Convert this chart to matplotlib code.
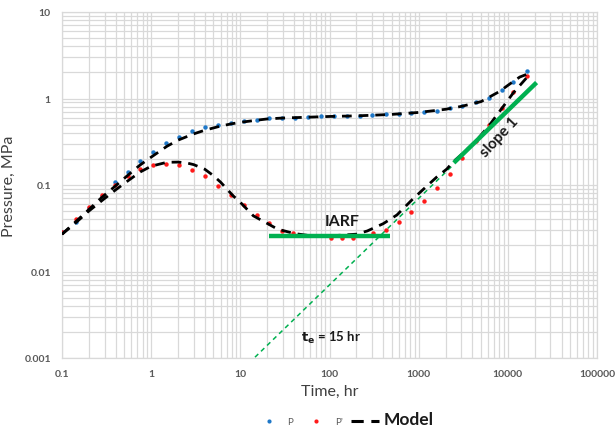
import matplotlib
matplotlib.use("Agg")
import matplotlib.pyplot as plt
from matplotlib.lines import Line2D
from matplotlib.ticker import LogLocator, NullFormatter, FixedLocator
import numpy as np

plt.rcParams['font.family'] = ['Lato', 'DejaVu Sans']

# ---- data ----
t_p = [0.1, 0.143, 0.2, 0.28, 0.39, 0.55, 0.75, 1.05, 1.47, 2.05, 2.86, 4.0, 5.6, 7.8,
       10.9, 15.3, 21, 29.5, 41, 57, 80, 112, 157, 219, 296, 425, 600, 820, 1150,
       1600, 2250, 3100, 4400, 6100, 8500, 11500, 16500]
p_vals = [0.029, 0.037, 0.054, 0.075, 0.108, 0.141, 0.189, 0.241, 0.306, 0.359, 0.421,
          0.469, 0.494, 0.521, 0.549, 0.564, 0.595, 0.595, 0.595, 0.611, 0.628, 0.628,
          0.628, 0.628, 0.644, 0.662, 0.662, 0.68, 0.698, 0.717, 0.776, 0.818, 0.911,
          1.01, 1.25, 1.55, 2.08]

t_dp = [0.1, 0.143, 0.2, 0.28, 0.39, 0.55, 0.75, 1.05, 1.47, 2.05, 2.86, 4.0, 5.6, 7.8,
        10.9, 15.3, 21, 29.5, 39, 104, 138, 183, 307, 428, 600, 820, 1150, 1600, 2250,
        3100, 4400, 6100, 8500, 11500, 16500]
dp_vals = [0.029, 0.0405, 0.0557, 0.0766, 0.100, 0.127, 0.153, 0.170, 0.175, 0.170,
           0.149, 0.127, 0.097, 0.0766, 0.0587, 0.045, 0.0364, 0.0294, 0.0279, 0.0244,
           0.0244, 0.0244, 0.0279, 0.0302, 0.0373, 0.0488, 0.0653, 0.0923, 0.134, 0.205,
           0.323, 0.494, 0.776, 1.19, 1.82]

t_model = [0.1, 0.14, 0.2, 0.28, 0.4, 0.55, 0.75, 1.0, 1.5, 2, 3, 4, 6, 8, 10, 15, 20,
           30, 50, 100, 200, 300, 500, 1000, 2000, 3000, 5000, 8000, 10500, 13600, 17700]
p_model = [0.027, 0.037, 0.052, 0.072, 0.098, 0.13, 0.17, 0.21, 0.28, 0.33, 0.39, 0.43,
           0.48, 0.51, 0.53, 0.56, 0.58, 0.595, 0.605, 0.62, 0.63, 0.64, 0.655, 0.69,
           0.75, 0.81, 0.92, 1.2, 1.47, 1.77, 1.97]

t_dmodel = [0.1, 0.14, 0.2, 0.28, 0.4, 0.55, 0.75, 1.0, 1.5, 2, 2.5, 3, 4, 5, 6, 8.3, 10,
            14, 20, 26, 40, 60, 100, 200, 265, 400, 570, 860, 1240, 1600, 2070, 2420,
            3100, 4400, 6100, 8500, 11500, 17700]
dp_model = [0.027, 0.036, 0.05, 0.066, 0.088, 0.112, 0.141, 0.165, 0.183, 0.184, 0.18,
            0.172, 0.152, 0.128, 0.108, 0.075, 0.063, 0.044, 0.036, 0.031, 0.0275, 0.026,
            0.0258, 0.027, 0.0294, 0.0357, 0.045, 0.0689, 0.0975, 0.124, 0.153, 0.184,
            0.23, 0.323, 0.48, 0.76, 1.16, 1.92]

iarf_t = [21, 475]
iarf_level = 0.0257
slope_t = [2480, 21000]
te_line_t = [14.6, 2480]
slope_coef = 7.0e-5   # P' = coef * t  (unit slope)

x_ticks = [0.1, 1, 10, 100, 1000, 10000, 100000]
x_labels = ['0.1', '1', '10', '100', '1000', '10000', '100000']
y_ticks = [0.001, 0.01, 0.1, 1, 10]
y_labels = ['0.001', '0.01', '0.1', '1', '10']

# ---- figure ----
fig = plt.figure(figsize=(6.16, 4.27), dpi=100)
ax = fig.add_axes([62/616, 1-359/427, 535/616, 346/427])
ax.set_xscale('log')
ax.set_yscale('log')
ax.set_xlim(0.1, 100000)
ax.set_ylim(0.001, 10)

gcol = '#d9d9d9'
ax.xaxis.set_major_locator(FixedLocator(x_ticks))
ax.yaxis.set_major_locator(FixedLocator(y_ticks))
ax.xaxis.set_minor_locator(LogLocator(base=10, subs=np.arange(2, 10), numticks=20))
ax.yaxis.set_minor_locator(LogLocator(base=10, subs=np.arange(2, 10), numticks=20))
ax.xaxis.set_minor_formatter(NullFormatter())
ax.yaxis.set_minor_formatter(NullFormatter())
ax.set_xticklabels(x_labels)
ax.set_yticklabels(y_labels)
ax.grid(True, which='both', color=gcol, lw=0.9)
ax.set_axisbelow(True)
ax.tick_params(which='both', length=0, labelsize=7.5, labelcolor='#595959', pad=8)
for lab in ax.get_xticklabels() + ax.get_yticklabels():
    lab.set_fontweight('bold')
for s in ax.spines.values():
    s.set_color(gcol)
    s.set_linewidth(0.9)

ax.set_xlabel('Time, hr', fontsize=11.5, color='#404040', labelpad=4)
ax.set_ylabel('Pressure, MPa', fontsize=11.5, color='#404040', labelpad=6)

green = '#00b050'
# thin dashed unit-slope extension
te_arr = np.array(te_line_t)
ax.plot(te_arr, slope_coef * te_arr, color=green, lw=1.1, ls=(0, (3, 2.5)), zorder=2)

# data
ax.plot(t_p, p_vals, 'o', color='#1f78c8', ms=3.2, mec='none', zorder=3)
ax.plot(t_dp, dp_vals, 'o', color='#ff1a1a', ms=3.2, mec='none', zorder=3)

# model
ax.plot(t_model, p_model, color='black', lw=2.0, ls=(0, (3.5, 2.5)), zorder=4)
ax.plot(t_dmodel, dp_model, color='black', lw=2.0, ls=(0, (3.5, 2.5)), zorder=4)

# thick green lines
ax.plot(iarf_t, [iarf_level, iarf_level], color=green, lw=3.2, solid_capstyle='butt', zorder=5)
sl_arr = np.array(slope_t)
ax.plot(sl_arr, slope_coef * 1.04 * sl_arr, color=green, lw=3.2, solid_capstyle='butt', zorder=5)

# annotations
ax.text(138, 0.0384, 'IARF', fontsize=11.5, fontweight='bold', ha='center', va='center', color='#1a1a1a')
ax.text(8130, 0.36, 'slope 1', fontsize=11, fontweight='bold', ha='center', va='center',
        rotation=47, color='#1a1a1a')
ax.text(104, 0.00175, r'$\mathbf{t_e}$ = 15 hr', fontsize=9.5, fontweight='bold',
        ha='center', va='center', color='#1a1a1a')

# legend
handles = [Line2D([], [], ls='none', marker='o', color='#1f78c8', ms=3, mec='none'),
           Line2D([], [], ls='none', marker='o', color='#ff1a1a', ms=3, mec='none'),
           Line2D([], [], color='black', lw=2.2, ls=(0, (4, 2.5)))]
leg = fig.legend(handles, ['P', "P'", 'Model'], loc='center', bbox_to_anchor=(0.559, 1-420/427),
                 ncol=3, frameon=False, fontsize=7, handlelength=2.9, columnspacing=0.9,
                 handletextpad=0.45)
for i, txt in enumerate(leg.get_texts()):
    if i < 2:
        txt.set_color('#595959')
    else:
        txt.set_fontweight('bold')
        txt.set_fontsize(12.5)
        txt.set_color('#1a1a1a')

fig.savefig('out.png', dpi=100)
